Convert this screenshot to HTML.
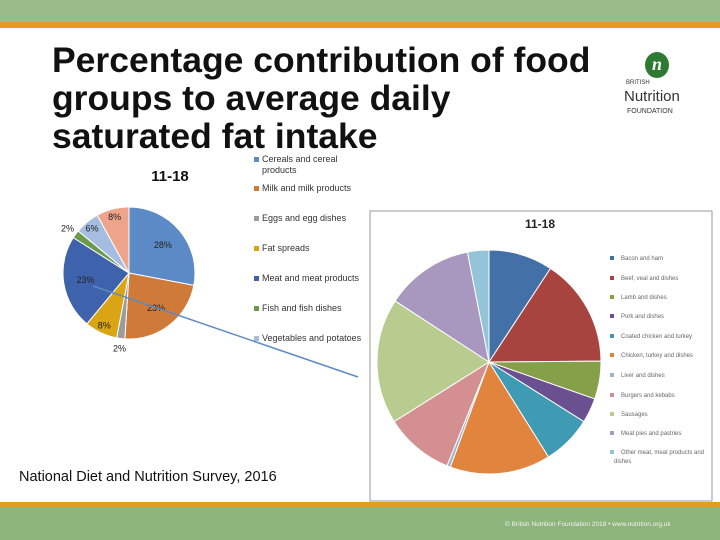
<!DOCTYPE html>
<html><head><meta charset="utf-8"><style>
body{margin:0;width:720px;height:540px;overflow:hidden;background:#fff;font-family:"Liberation Sans",sans-serif;position:relative}
.abs{position:absolute}
</style></head><body>
<div class="abs" style="left:0;top:0;width:720px;height:22px;background:#9aba8a"></div>
<div class="abs" style="left:0;top:22px;width:720px;height:6px;background:#e89a1c"></div>
<div class="abs" style="left:52px;top:41px;font-size:35.5px;font-weight:bold;line-height:38px;color:#111;white-space:nowrap">Percentage contribution of food<br>groups to average daily<br>saturated fat intake</div>
<div class="abs" style="left:620px;top:50px;width:80px;height:70px">
<div style="position:absolute;left:25px;top:2px;width:24px;height:26px;border-radius:50%;background:#2e7a32;color:#fff;font:italic bold 18px 'Liberation Serif',serif;text-align:center;line-height:24px">n</div>
<div style="position:absolute;left:6px;top:30px;font-size:6px;color:#333">BRITISH</div>
<div style="position:absolute;left:4px;top:38px;font-size:15px;color:#333">Nutrition</div>
<div style="position:absolute;left:7px;top:58px;font-size:7px;color:#333">FOUNDATION</div>
</div>
<svg class="abs" style="left:0;top:0" width="720" height="540">
<g id="left"></g>
<rect x="370" y="211" width="342" height="290" fill="#fff" stroke="#999" stroke-width="1"/>
<text x="540" y="228" font-size="12" font-weight="bold" text-anchor="middle" fill="#222">11-18</text>
<g id="right"></g>
<text x="170" y="181" font-size="15" font-weight="bold" text-anchor="middle" fill="#111">11-18</text>
<line x1="93" y1="286" x2="358" y2="377" stroke="#5b8ac6" stroke-width="1.5"/>
</svg>
<div class="abs" style="left:19px;top:469px;font-size:14.5px;color:#111">National Diet and Nutrition Survey, 2016</div>
<div class="abs" style="left:0;top:502px;width:720px;height:5px;background:#e89a1c"></div>
<div class="abs" style="left:0;top:507px;width:720px;height:33px;background:#8db47a"></div>
<div class="abs" style="left:505px;top:521px;font-size:6.5px;color:#f4f4f4">© British Nutrition Foundation 2018 • www.nutrition.org.uk</div>
<script>
const leftCats=["Cereals and cereal products","Milk and milk products","Eggs and egg dishes","Fat spreads","Meat and meat products","Fish and fish dishes","Vegetables and potatoes","Other"];
const leftVals=[28,23,2,8,23,2,6,8];
const leftLabels=["28%","23%","2%","8%","23%","2%","6%","8%"];
const leftColors=["#5b8ac6","#d07a3a","#9c9c9c","#d9a514","#3f62ad","#6a9a4a","#a5bde0","#eea48a"];
const rightCats=["Bacon and ham","Beef, veal and dishes","Lamb and dishes","Pork and dishes","Coated chicken and turkey","Chicken, turkey and dishes","Liver and dishes","Burgers and kebabs","Sausages","Meat pies and pastries","Other meat, meat products and dishes"];
const rightVals=[9.3,15.7,5.5,3.6,7.2,14.6,0.5,10,18.2,12.8,3.1];
const rightColors=["#4470a8","#a84440","#86a04a","#6a5090","#3f9ab4","#e0843e","#9fb0d0","#d49090","#b8cc90","#a898c0","#94c4d8"];
const NS="http://www.w3.org/2000/svg";
function pie(g,vals,cx,cy,r,colors,name){
 const tot=vals.reduce((a,b)=>a+b,0);let a0=0;const out=[];
 vals.forEach((v,i)=>{const a1=a0+v/tot*2*Math.PI;
  const p=(a)=>[cx+r*Math.sin(a),cy-r*Math.cos(a)];
  const [x0,y0]=p(a0),[x1,y1]=p(a1);
  const el=document.createElementNS(NS,"path");
  el.setAttribute("d",`M${cx},${cy}L${x0},${y0}A${r},${r} 0 ${a1-a0>Math.PI?1:0} 1 ${x1},${y1}Z`);
  el.setAttribute("fill",colors[i]);el.setAttribute("stroke","#fff");el.setAttribute("stroke-width","1");
  
  
  g.appendChild(el);out.push((a0+a1)/2);a0=a1;});
 return out;
}
const lg=document.getElementById("left");
const mids=pie(lg,leftVals,129,273,66,leftColors,"left");
mids.forEach((m,i)=>{const rr=(leftVals[i]<=3)?76:(leftVals[i]<=8?58:44);
 const t=document.createElementNS(NS,"text");
 t.setAttribute("x",129+rr*Math.sin(m));t.setAttribute("y",273-rr*Math.cos(m)+3);
 t.setAttribute("font-size","9");t.setAttribute("text-anchor","middle");t.setAttribute("fill","#222");
 t.textContent=leftLabels[i];
 
 
 lg.appendChild(t);});
const legY=[162,191,221,251,281,311,341];
legY.forEach((y,i)=>{const r=document.createElementNS(NS,"rect");
 r.setAttribute("x",254);r.setAttribute("y",y-5);r.setAttribute("width",5);r.setAttribute("height",5);r.setAttribute("fill",leftColors[i]);
 
 
 lg.appendChild(r);
 const t=document.createElementNS(NS,"text");t.setAttribute("x",262);t.setAttribute("y",y);t.setAttribute("font-size","9");t.setAttribute("fill","#333");
 if(i===0){t.innerHTML='<tspan x="262">Cereals and cereal</tspan><tspan x="262" dy="11">products</tspan>';}else t.textContent=leftCats[i];
 
 
 lg.appendChild(t);});
const rg=document.getElementById("right");
pie(rg,rightVals,489,362,112,rightColors,"right");
const ry=[260,280,299,318,338,357,377,397,416,435,454];
ry.forEach((y,i)=>{const r=document.createElementNS(NS,"rect");
 r.setAttribute("x",610);r.setAttribute("y",y-4);r.setAttribute("width",4);r.setAttribute("height",4);r.setAttribute("fill",rightColors[i]);
 
 
 rg.appendChild(r);
 const t=document.createElementNS(NS,"text");t.setAttribute("x",621);t.setAttribute("y",y);t.setAttribute("font-size","6");t.setAttribute("fill","#666");
 if(i===10){t.innerHTML='<tspan x="621">Other meat, meat products and</tspan><tspan x="614" dy="9">dishes</tspan>';}else t.textContent=rightCats[i];
 
 
 rg.appendChild(t);});
</script>
</body></html>
